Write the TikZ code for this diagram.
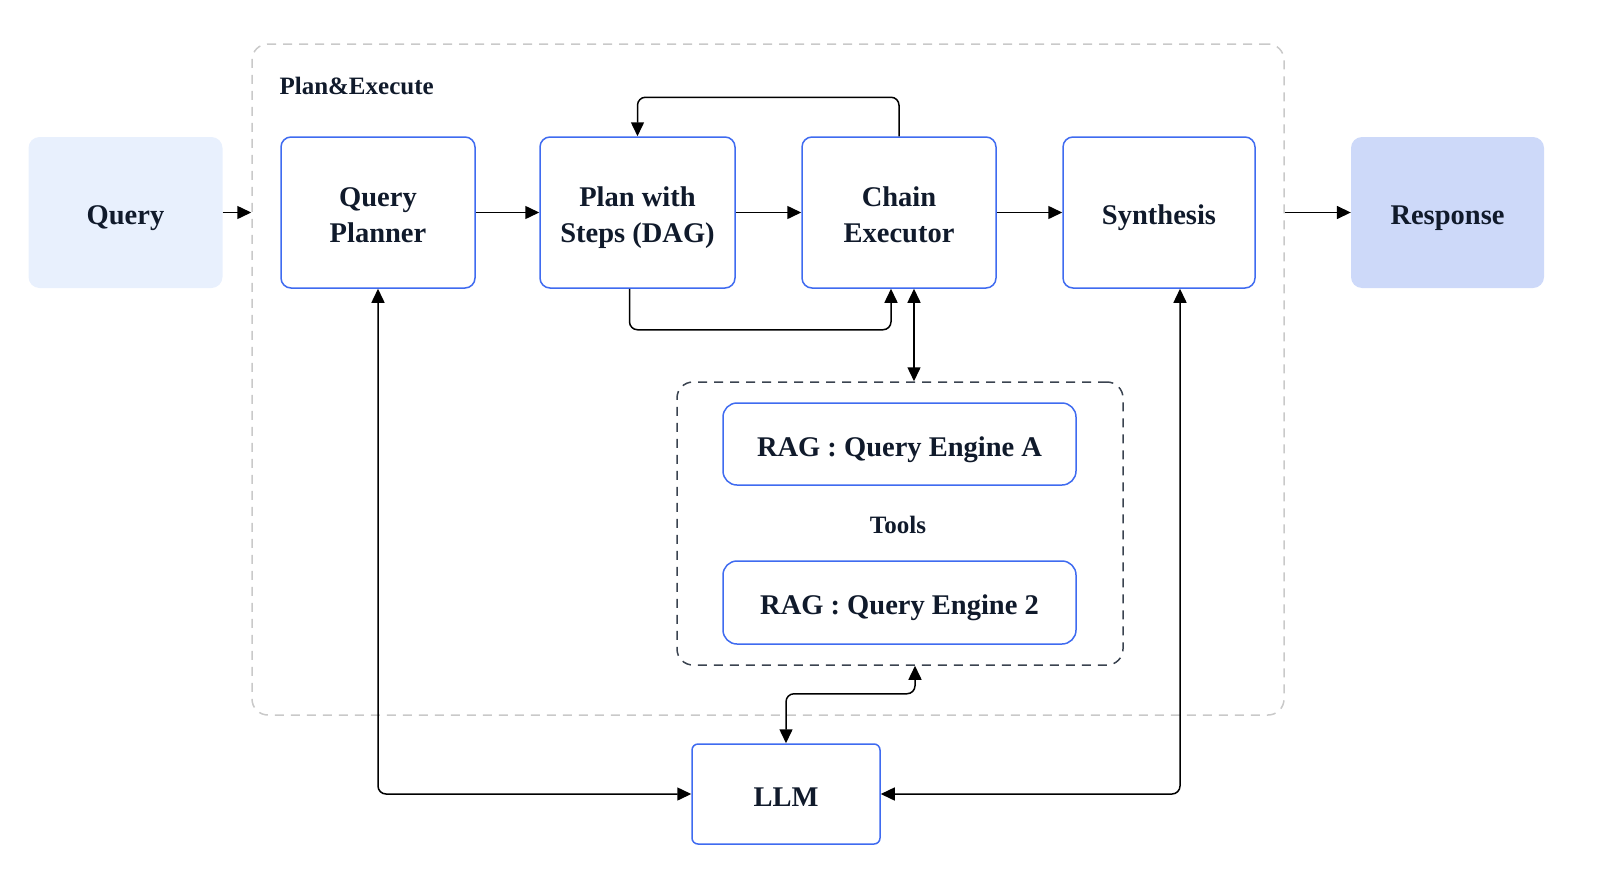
\documentclass[tikz,border=0pt]{standalone}
\usepackage{fontspec}
\setmainfont{Liberation Serif}
\usetikzlibrary{arrows.meta,calc}
\definecolor{txt}{HTML}{101A2B}
\definecolor{bblue}{HTML}{3F6BF0}
\definecolor{qfill}{HTML}{E8F0FD}
\definecolor{rfill}{HTML}{CDD9F9}
\definecolor{pegray}{HTML}{C9C9C9}
\definecolor{tooldash}{HTML}{3A4350}
\newcommand\bxt[1]{\raisebox{-5pt}[\height][\depth]{\begin{tabular}{@{}c@{}}#1\end{tabular}}}
\tikzset{
  bigtext/.style={font=\fontsize{28.5pt}{36pt}\selectfont\bfseries, text=txt, align=center},
  midtext/.style={font=\fontsize{25pt}{30pt}\selectfont\bfseries, text=txt, align=center},
  procbox/.style={bigtext, draw=bblue, line width=1.5pt, fill=white, rounded corners=10pt, minimum height=151pt, inner sep=0pt},
  iobox/.style={bigtext, draw=none, rounded corners=11pt, minimum width=194pt, minimum height=151pt, inner sep=0pt},
  ragbox/.style={bigtext, draw=bblue, line width=1.5pt, fill=white, rounded corners=14pt, minimum width=353pt, minimum height=82pt, inner sep=0pt},
  arr/.style={line width=1.5pt, black, -{Triangle[length=14pt,width=13pt]}},
  barr/.style={line width=1.5pt, black, {Triangle[length=14pt,width=13pt]}-{Triangle[length=14pt,width=13pt]}},
}
\begin{document}
\begin{tikzpicture}[x=1pt,y=-1pt]
\useasboundingbox (0,0) rectangle (1602,870);
% containers
\node[draw=pegray, line width=1.5pt, dash pattern=on 9pt off 7pt, rounded corners=16pt, minimum width=1032pt, minimum height=671pt, inner sep=0pt] (pe) at (768,379.5) {};
\node[midtext, anchor=west] (pelabel) at (276,86) {Plan\&Execute};
\node[draw=tooldash, line width=1.5pt, dash pattern=on 9pt off 7pt, rounded corners=16pt, minimum width=446pt, minimum height=283pt, inner sep=0pt] (tools) at (900,523.5) {};
\node[midtext] (toolslabel) at (898,525) {Tools};
% boxes
\node[iobox, fill=qfill] (q) at (125.5,212.5) {\bxt{Query}};
\node[procbox, minimum width=194pt] (planner) at (378,212.5) {\bxt{Query\\Planner}};
\node[procbox, minimum width=195pt] (plan) at (637.5,212.5) {\bxt{Plan with\\Steps (DAG)}};
\node[procbox, minimum width=194pt] (chain) at (899,212.5) {\bxt{Chain\\Executor}};
\node[procbox, minimum width=192pt] (synth) at (1159,212.5) {\bxt{Synthesis}};
\node[iobox, fill=rfill, minimum width=193pt] (resp) at (1447.5,212.5) {\bxt{Response}};
\node[ragbox] (ragA) at (899.5,444) {\bxt{RAG : Query Engine A}};
\node[ragbox, minimum height=83pt] (ragB) at (899.5,602.5) {\bxt{RAG : Query Engine 2}};
\node[procbox, minimum width=188pt, minimum height=100pt, rounded corners=6pt] (llm) at (786,794) {\bxt{LLM}};
% connectors
\draw[arr] (q.east) -- (q.east -| pe.west);
\draw[arr] (planner.east) -- (plan.west);
\draw[arr] (plan.east) -- (chain.west);
\draw[arr] (chain.east) -- (synth.west);
\draw[arr] (pe.east |- resp.west) -- (resp.west);
\draw[arr, rounded corners=8pt] (chain.north) -- ++(0,-39) -| (plan.north);
\draw[arr, rounded corners=8pt] ([xshift=-8pt]plan.south) -- ++(0,41) -| ([xshift=-8pt]chain.south);
\draw[barr] ([xshift=15pt]chain.south) -- ([xshift=15pt]chain.south |- tools.north);
\draw[barr, rounded corners=8pt] ([xshift=15pt]tools.south) -- ++(0,28) -| (llm.north);
\draw[barr, rounded corners=8pt] (planner.south) |- (llm.west);
\draw[barr, rounded corners=8pt] ([xshift=21pt]synth.south) |- (llm.east);
\end{tikzpicture}
\end{document}
